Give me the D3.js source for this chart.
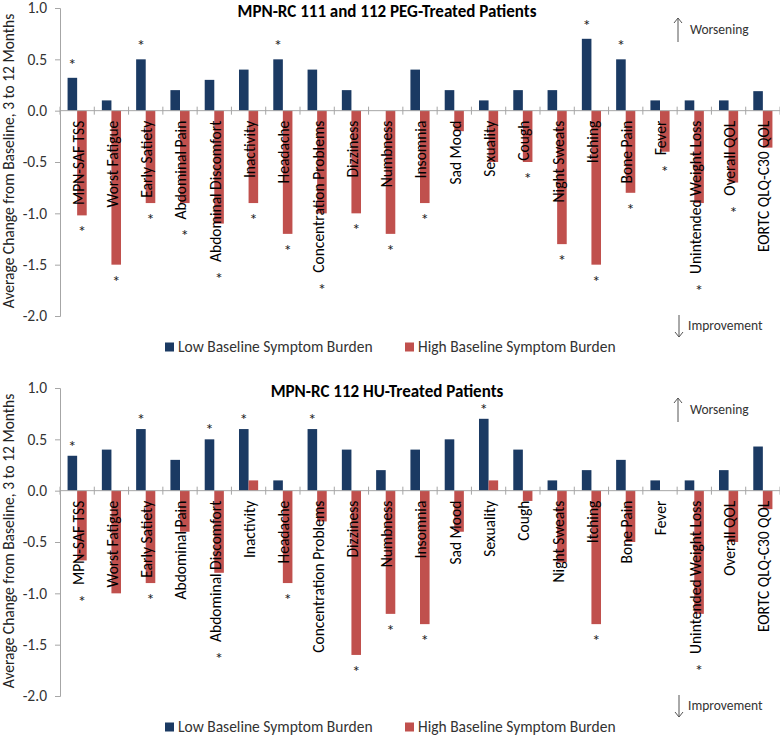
<!DOCTYPE html>
<html lang="en">
<head>
<meta charset="UTF-8">
<title>MPN-RC symptom change</title>
<script src="https://d3js.org/d3.v7.min.js"></script>
<style>
  body { margin: 0; background: #fff; }
  text { font-family: Carlito, Calibri, Lato, sans-serif; }
</style>
</head>
<body>
<script>
// categories shared by both panels
let categories = ["MPN-SAF TSS", "Worst Fatigue", "Early Satiety", "Abdominal Pain",
  "Abdominal Discomfort", "Inactivity", "Headache", "Concentration Problems", "Dizziness",
  "Numbness", "Insomnia", "Sad Mood", "Sexuality", "Cough", "Night Sweats", "Itching",
  "Bone Pain", "Fever", "Unintended Weight Loss", "Overall QOL", "EORTC QLQ-C30 QOL"];

let seriesNames = ["Low Baseline Symptom Burden", "High Baseline Symptom Burden"];
let titles = ["MPN-RC 111 and 112 PEG-Treated Patients", "MPN-RC 112 HU-Treated Patients"];
let yTicks = [1.0, 0.5, 0.0, -0.5, -1.0, -1.5, -2.0];

// PEG panel
let pegLow = [0.32, 0.1, 0.5, 0.2, 0.3, 0.4, 0.5, 0.4, 0.2, 0, 0.4, 0.2, 0.1, 0.2, 0.2, 0.7, 0.5, 0.1, 0.1, 0.1, 0.19];
let pegHigh = [-1.02, -1.5, -0.9, -0.9, -1.1, -0.9, -1.2, -1.0, -1.0, -1.2, -0.9, -0.2, -0.5, -0.5, -1.3, -1.5, -0.8, -0.4, -0.9, -0.7, -0.36];
let pegLowStar = [1, 0, 1, 0, 0, 0, 1, 0, 0, 0, 0, 0, 0, 0, 0, 1, 1, 0, 0, 0, 0];
let pegHighStar = [1, 1, 1, 1, 1, 1, 1, 1, 1, 1, 1, 0, 0, 1, 1, 1, 1, 1, 1, 1, 0];

// HU panel
let huLow = [0.34, 0.4, 0.6, 0.3, 0.5, 0.6, 0.1, 0.6, 0.4, 0.2, 0.4, 0.5, 0.7, 0.4, 0.1, 0.2, 0.3, 0.1, 0.1, 0.2, 0.43];
let huHigh = [-0.68, -1.0, -0.9, -0.4, -0.8, 0.1, -0.9, -0.3, -1.6, -1.2, -1.3, -0.4, 0.1, -0.1, -0.7, -1.3, -0.5, 0, -1.2, -0.5, -0.18];
let huLowStar = [1, 0, 1, 0, 1, 1, 0, 1, 0, 0, 0, 0, 1, 0, 0, 0, 0, 0, 0, 0, 0];
let huHighStar = [1, 0, 1, 0, 1, 0, 1, 0, 1, 1, 1, 0, 0, 0, 0, 1, 0, 0, 1, 0, 0];

let width = 780, height = 737;
let blue = "#1b3a63", red = "#c0504d", axisColor = "#a6a6a6";

let svg = d3.select("body").append("svg")
  .attr("width", width)
  .attr("height", height);

let x = d3.scaleBand()
  .domain(categories)
  .range([60, 780]);

let xSub = d3.scaleBand()
  .domain(["low", "high"])
  .range([0, x.bandwidth()])
  .paddingOuter(0.79);

drawPanel(0, 16, titles[0], pegLow, pegHigh, pegLowStar, pegHighStar);
drawPanel(380, 12, titles[1], huLow, huHigh, huLowStar, huHighStar);

function drawPanel(top, starGap, title, low, high, lowStar, highStar) {
  let g = svg.append("g");
  let y = d3.scaleLinear()
    .domain([-2, 1])
    .range([top + 316, top + 8]);
  let y0 = y(0);

  // y axis
  let yAxis = g.append("g")
    .attr("transform", "translate(60,0)")
    .call(d3.axisLeft(y).tickValues(yTicks).tickSize(5).tickPadding(8)
      .tickFormat(d => d.toFixed(1)));
  yAxis.select(".domain").attr("stroke", axisColor);
  yAxis.selectAll(".tick line").attr("stroke", axisColor);
  yAxis.selectAll(".tick text")
    .attr("fill", "#333")
    .style("font-size", "15.5px")
    .style("font-family", "Carlito, Calibri, Lato, sans-serif");

  g.append("text")
    .attr("transform", "translate(14," + (top + 161) + ") rotate(-90)")
    .attr("text-anchor", "middle")
    .attr("fill", "#222")
    .style("font-size", "15.5px")
    .text("Average Change from Baseline, 3 to 12 Months");

  // bars
  let rows = categories.map((c, i) => ({ cat: c, low: low[i], high: high[i], ls: lowStar[i], hs: highStar[i] }));

  g.selectAll(".low").data(rows).join("rect")
    .attr("x", d => x(d.cat) + xSub("low"))
    .attr("y", d => Math.min(y(d.low), y0))
    .attr("width", xSub.bandwidth())
    .attr("height", d => Math.abs(y(d.low) - y0))
    .attr("fill", blue);

  g.selectAll(".high").data(rows).join("rect")
    .attr("x", d => x(d.cat) + xSub("high"))
    .attr("y", d => Math.min(y(d.high), y0))
    .attr("width", xSub.bandwidth())
    .attr("height", d => Math.abs(y(d.high) - y0))
    .attr("fill", red);

  // category axis along zero
  g.append("line")
    .attr("x1", 60).attr("x2", 780)
    .attr("y1", y0).attr("y2", y0)
    .attr("stroke", axisColor);
  let bounds = categories.map(c => x(c)).concat([x.range()[1]]);
  g.selectAll(".xt").data(bounds).join("line")
    .attr("x1", d => d).attr("x2", d => d)
    .attr("y1", y0 - 4).attr("y2", y0 + 4)
    .attr("stroke", axisColor);

  // rotated category labels over the bars
  let labelEnds = [];
  g.selectAll(".cat").data(rows).join("text")
    .attr("transform", d => "translate(" + (x(d.cat) + x.bandwidth() / 2 + 1) + "," + (y0 + 10) + ") rotate(-90)")
    .attr("text-anchor", "end")
    .attr("dy", "0.35em")
    .attr("fill", "#000")
    .style("font-size", "15.5px")
    .text(d => d.cat)
    .each(function () { labelEnds.push(y0 + 10 + this.getComputedTextLength()); });

  // significance asterisks
  g.selectAll(".sl").data(rows.filter(d => d.ls)).join("text")
    .attr("x", d => x(d.cat) + xSub("low") + xSub.bandwidth() / 2)
    .attr("y", d => y(d.low) - starGap + 8)
    .attr("text-anchor", "middle")
    .attr("fill", "#222")
    .style("font-size", "17px")
    .text("*");

  g.selectAll(".sh").data(rows.map((d, i) => ({ d: d, end: labelEnds[i] })).filter(o => o.d.hs)).join("text")
    .attr("x", o => x(o.d.cat) + xSub("high") + xSub.bandwidth() / 2)
    .attr("y", o => Math.max(y(o.d.high), o.end) + 14 + 8)
    .attr("text-anchor", "middle")
    .attr("fill", "#222")
    .style("font-size", "17px")
    .text("*");

  // title
  g.append("text")
    .attr("x", 387)
    .attr("y", top + 16.5)
    .attr("text-anchor", "middle")
    .attr("fill", "#000")
    .style("font-size", "17px")
    .style("font-weight", "bold")
    .text(title);

  // direction notes
  let up = top + 18, upEnd = top + 42;
  g.append("path")
    .attr("d", "M678," + upEnd + "V" + up + "M674," + (up + 5) + "L678," + up + "L682," + (up + 5))
    .attr("fill", "none").attr("stroke", "#555");
  g.append("text")
    .attr("x", 690).attr("y", top + 34)
    .attr("fill", "#333")
    .style("font-size", "13.5px")
    .text("Worsening");

  let dn = top + 315, dnEnd = top + 337;
  g.append("path")
    .attr("d", "M679," + dn + "V" + dnEnd + "M675," + (dnEnd - 5) + "L679," + dnEnd + "L683," + (dnEnd - 5))
    .attr("fill", "none").attr("stroke", "#555");
  g.append("text")
    .attr("x", 688).attr("y", top + 330)
    .attr("fill", "#333")
    .style("font-size", "13.5px")
    .text("Improvement");

  // legend
  let legend = [{ name: seriesNames[0], color: blue, x: 165 }, { name: seriesNames[1], color: red, x: 405 }];
  let lg = g.selectAll(".lg").data(legend).join("g")
    .attr("transform", d => "translate(" + d.x + "," + (top + 347) + ")");
  lg.append("rect")
    .attr("x", 0).attr("y", -4.5)
    .attr("width", 9).attr("height", 9)
    .attr("fill", d => d.color);
  lg.append("text")
    .attr("x", 13).attr("y", 5)
    .attr("fill", "#333")
    .style("font-size", "15.5px")
    .text(d => d.name);
}
</script>
</body>
</html>
